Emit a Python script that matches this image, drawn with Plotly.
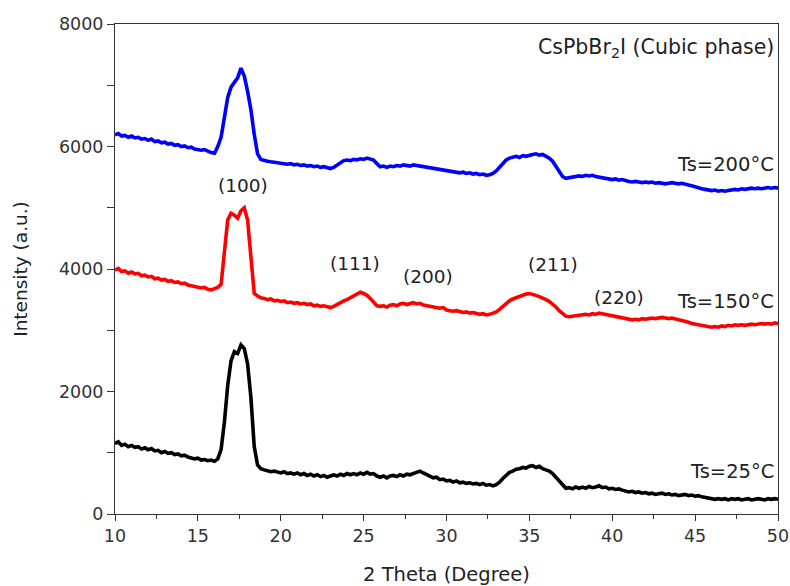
import numpy as np
import plotly.graph_objects as go

# 2-theta grid (degrees), 0.2 deg step
two_theta = np.round(np.linspace(10, 50, 201), 1)

ts25 = [
    1150,1180,1120,1140,1100,1120,1090,1100,1060,1080,
    1050,1070,1030,1040,1000,1020,990,1000,970,980,
    950,960,930,920,900,910,880,890,870,880,
    860,900,1050,1500,2100,2500,2650,2620,2760,2700,
    2450,1900,1100,800,740,720,700,690,700,680,
    670,690,660,670,650,670,640,660,630,650,
    620,640,610,630,600,620,640,620,650,630,
    660,640,660,640,670,650,680,650,660,620,
    600,620,590,620,630,610,640,620,650,640,
    660,680,700,670,640,620,590,600,560,570,
    540,550,520,540,510,520,500,510,490,500,
    480,500,470,480,460,480,520,580,640,680,
    700,730,740,760,750,780,790,760,780,740,
    720,700,660,600,520,460,420,430,410,440,
    420,440,420,450,430,440,460,430,440,410,
    420,400,410,390,380,360,370,350,360,340,
    350,330,340,320,330,340,320,330,310,320,
    300,310,320,300,310,290,300,280,270,260,
    250,240,250,240,250,230,250,240,250,230,
    240,250,230,240,250,240,230,250,240,250,
    240,
]

ts150 = [
    3980,4010,3960,3970,3930,3950,3920,3930,3890,3900,
    3870,3880,3840,3850,3820,3830,3800,3810,3780,3790,
    3760,3770,3740,3730,3720,3700,3690,3700,3670,3660,
    3680,3700,3750,4300,4800,4910,4880,4830,4950,5000,
    4800,4200,3600,3560,3530,3520,3500,3510,3480,3490,
    3470,3480,3450,3460,3440,3450,3430,3440,3420,3430,
    3400,3410,3390,3400,3380,3370,3390,3420,3460,3480,
    3500,3530,3560,3580,3620,3600,3570,3520,3460,3400,
    3390,3400,3380,3410,3420,3400,3430,3440,3420,3440,
    3450,3430,3440,3410,3400,3390,3380,3370,3360,3370,
    3330,3320,3310,3320,3300,3290,3300,3280,3290,3270,
    3260,3270,3250,3260,3280,3300,3340,3390,3440,3480,
    3510,3530,3560,3570,3590,3600,3590,3570,3550,3530,
    3500,3470,3430,3380,3320,3270,3230,3220,3230,3240,
    3240,3250,3260,3250,3270,3260,3280,3270,3260,3250,
    3240,3230,3220,3210,3190,3180,3170,3180,3170,3190,
    3180,3190,3200,3190,3200,3210,3200,3190,3200,3180,
    3170,3160,3150,3130,3110,3100,3090,3080,3070,3060,
    3050,3060,3050,3070,3060,3080,3070,3090,3080,3090,
    3080,3090,3100,3090,3100,3110,3100,3110,3100,3120,
    3110,
]

ts200 = [
    6190,6210,6170,6180,6150,6170,6140,6150,6120,6130,
    6100,6120,6080,6090,6060,6070,6040,6050,6020,6030,
    6000,6010,5980,5990,5960,5950,5940,5950,5920,5900,
    5890,6000,6150,6450,6800,6970,7050,7120,7280,7150,
    6900,6600,6200,5880,5790,5770,5760,5750,5740,5730,
    5730,5720,5710,5720,5700,5710,5690,5700,5680,5690,
    5670,5680,5660,5670,5650,5640,5660,5700,5740,5770,
    5780,5770,5790,5780,5800,5790,5810,5790,5780,5720,
    5670,5680,5660,5680,5670,5690,5680,5700,5690,5680,
    5700,5690,5680,5670,5660,5650,5640,5630,5620,5610,
    5600,5590,5590,5580,5570,5580,5560,5570,5550,5560,
    5540,5550,5530,5540,5560,5600,5660,5720,5780,5810,
    5830,5840,5820,5850,5840,5860,5870,5880,5860,5870,
    5840,5810,5760,5680,5580,5510,5480,5490,5500,5510,
    5520,5510,5530,5520,5530,5510,5500,5490,5480,5470,
    5460,5470,5450,5460,5440,5430,5420,5430,5420,5410,
    5420,5410,5420,5400,5410,5400,5390,5400,5410,5400,
    5390,5400,5380,5370,5360,5340,5320,5310,5300,5290,
    5280,5290,5270,5280,5270,5280,5290,5300,5290,5310,
    5300,5310,5320,5310,5320,5310,5320,5330,5320,5330,
    5320,
]

series_names = ["Ts=25°C", "Ts=150°C", "Ts=200°C"]
series_values = [ts25, ts150, ts200]
series_colors = ["#000000", "#FF0000", "#0000FF"]

# Reflection labels: (text, x, y)
hkl_labels = ["(100)", "(111)", "(200)", "(211)", "(220)"]
hkl_x = [17.72, 24.5, 28.9, 36.45, 40.4]
hkl_y = [5370, 4090, 3870, 4070, 3530]

ts_label_y = [690, 3470, 5700]

FONT = "DejaVu Sans"

fig = go.Figure()
for name, vals, col in zip(series_names, series_values, series_colors):
    fig.add_trace(go.Scatter(x=two_theta, y=vals, mode="lines", name=name,
                             line=dict(color=col, width=3.6), showlegend=False))

for t, x, y in zip(hkl_labels, hkl_x, hkl_y):
    fig.add_annotation(x=x, y=y, text=t, showarrow=False, xref="x", yref="y",
                       font=dict(family=FONT, size=18.5, color="#222"))

for name, y in zip(series_names, ts_label_y):
    fig.add_annotation(x=49.85, y=y, text=name, showarrow=False, xref="x", yref="y",
                       xanchor="right", font=dict(family=FONT, size=19.5, color="#222"))

fig.add_annotation(x=49.85, y=7610, text="CsPbBr<sub>2</sub>I (Cubic phase)", showarrow=False,
                   xref="x", yref="y", xanchor="right",
                   font=dict(family=FONT, size=20.5, color="#222"))

axis_common = dict(showgrid=False, zeroline=False, showline=True, linecolor="#333",
                   linewidth=1, mirror=True, ticks="outside", tickcolor="#333",
                   automargin=False,
                   tickfont=dict(family=FONT, size=17.5, color="#333"))

fig.update_xaxes(range=[10, 50], dtick=5, tick0=10, ticklen=6,
                 minor=dict(ticks="outside", dtick=2.5, tick0=10, ticklen=4, tickcolor="#333"),
                 title=dict(text="2 Theta (Degree)", font=dict(family=FONT, size=19.5, color="#222"),
                            standoff=22),
                 **axis_common)
fig.update_yaxes(range=[0, 8000], dtick=2000, tick0=0, ticklen=7,
                 minor=dict(ticks="outside", dtick=1000, tick0=0, ticklen=7, tickcolor="#333"),
                 title=dict(text="Intensity (a.u.)", font=dict(family=FONT, size=18.5, color="#222"),
                            standoff=26),
                 **axis_common)

fig.update_layout(width=790, height=586, margin=dict(l=115, r=12, t=24, b=72),
                  plot_bgcolor="white", paper_bgcolor="white")

fig.write_html("out.html")
